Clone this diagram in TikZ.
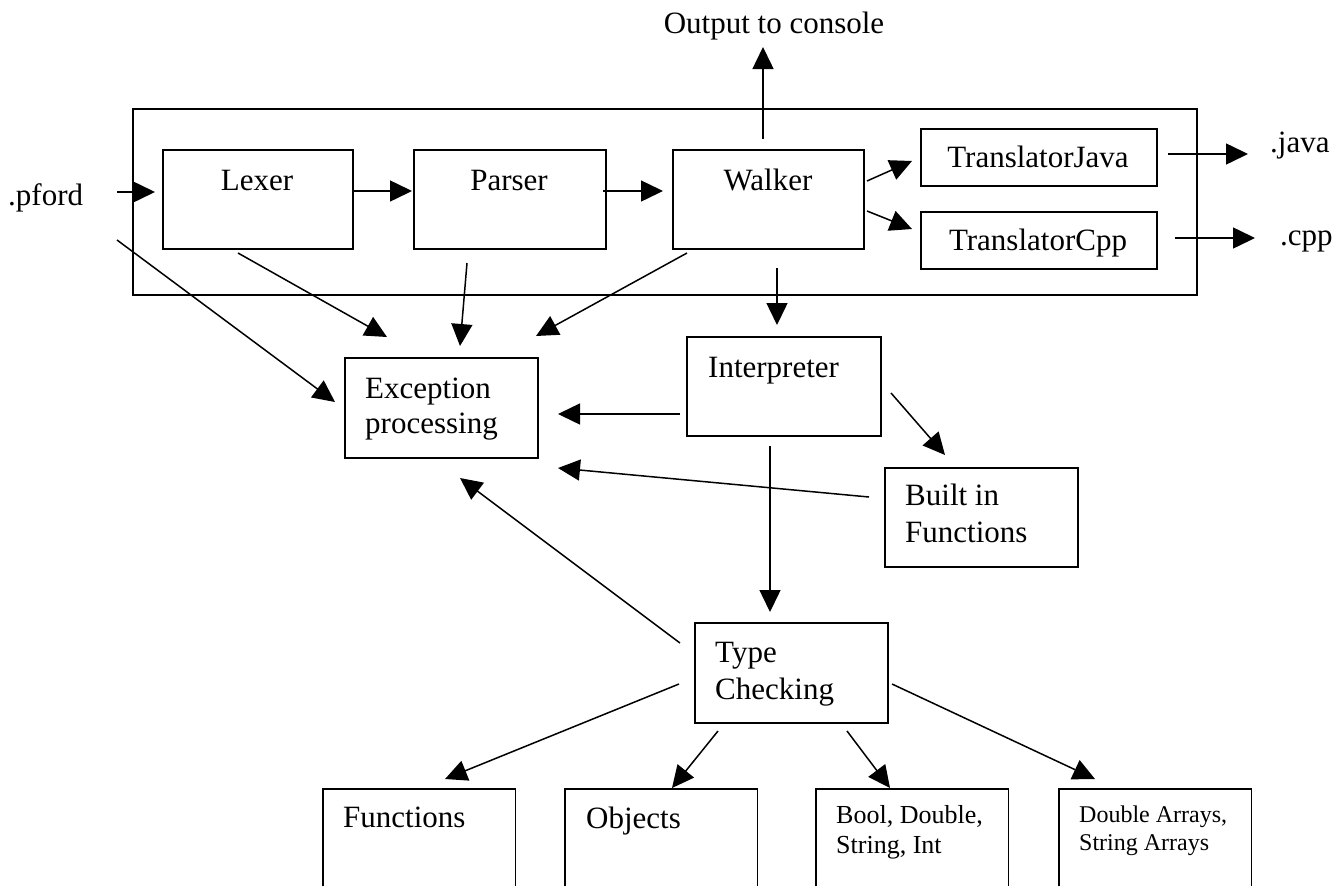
\documentclass[tikz,border=0pt]{standalone}
\usepackage{fontspec}
\setmainfont{Liberation Serif}
\usetikzlibrary{arrows.meta}
\begin{document}
\begin{tikzpicture}[x=1pt,y=-1pt,
  boxline/.style={line width=1.8pt},
  box/.style={draw, boxline, rectangle, inner sep=0pt, anchor=north west},
  openbox/.style={rectangle, inner sep=0pt, anchor=north west, minimum width=192pt, minimum height=97pt},
  lbl/.style={inner sep=0pt, font=\fontsize{31}{36}\selectfont, anchor=base},
  lblw/.style={lbl, anchor=base west},
  smallA/.style={inner sep=0pt, font=\fontsize{26}{30}\selectfont, anchor=base west},
  smallB/.style={inner sep=0pt, font=\fontsize{24}{28}\selectfont, anchor=base west},
  arr/.style={-{Triangle[length=22pt,width=21pt]}, line width=1.5pt}]
\useasboundingbox (0,0) rectangle (1343,886);

% boxes
\node[box, minimum width=1064pt, minimum height=186pt] (outer) at (132,108) {};
\node[box, minimum width=190pt, minimum height=99pt] (lexer) at (162,149) {};
\node[box, minimum width=192pt, minimum height=99pt] (parser) at (413,149) {};
\node[box, minimum width=191pt, minimum height=99pt] (walker) at (672,149) {};
\node[box, minimum width=236pt, minimum height=57pt] (tjava) at (920,128) {};
\node[box, minimum width=236pt, minimum height=57pt] (tcpp) at (920,211) {};
\node[box, minimum width=193pt, minimum height=100pt] (exc) at (344,357) {};
\node[box, minimum width=194pt, minimum height=99pt] (interp) at (686,336) {};
\node[box, minimum width=193pt, minimum height=99pt] (builtin) at (884,467) {};
\node[box, minimum width=193pt, minimum height=100pt] (tc) at (694,622) {};
\node[openbox] (fn) at (323,789) {};
\node[openbox] (obj) at (565,789) {};
\node[openbox] (bool) at (816,789) {};
\node[openbox] (darr) at (1059,789) {};
\foreach \b in {fn,obj,bool,darr}
  \draw[boxline] (\b.south west) -- (\b.north west) -- (\b.north east) -- (\b.south east);

% texts
\node[lblw] (tpford) at (8,205) {.pford};
\node[lbl] (tout) at (774,33) {Output to console};
\node[lbl] (tlexer) at (257,190) {Lexer};
\node[lbl] (tparser) at (509,190) {Parser};
\node[lbl] (twalker) at (768,190) {Walker};
\node[lbl] (ttjava) at (1038,167) {TranslatorJava};
\node[lbl] (ttcpp) at (1038,250) {TranslatorCpp};
\node[lblw] (tjavaext) at (1270,152) {.java};
\node[lblw] (tcppext) at (1280,245) {.cpp};
\node[lblw] (texc1) at (365,398) {Exception};
\node[lblw] (texc2) at (365,433) {processing};
\node[lblw] (tinterp) at (708,377) {Interpreter};
\node[lblw] (tbuilt1) at (905,505) {Built in};
\node[lblw] (tbuilt2) at (905,542) {Functions};
\node[lblw] (ttc1) at (715,662) {Type};
\node[lblw] (ttc2) at (715,699) {Checking};
\node[lblw] (tfn) at (343,827) {Functions};
\node[lblw] (tobj) at (586,828) {Objects};
\node[smallA] (tbool1) at (836,823) {Bool, Double,};
\node[smallA] (tbool2) at (836,853) {String, Int};
\node[smallB] (tdarr1) at (1079,822) {Double Arrays,};
\node[smallB] (tdarr2) at (1079,850) {String Arrays};

% connector end points
\coordinate (p1s) at (117,192);   \coordinate (p1e) at (155,192);
\coordinate (p9s) at (117,240);   \coordinate (p9e) at (335,402);
\coordinate (lx-e) at (352,191);  \coordinate (pa-w) at (412,191);
\coordinate (pa-e) at (603,191);  \coordinate (wa-w) at (663,191);
\coordinate (wa-j) at (867,181);  \coordinate (tj-w) at (912,161);
\coordinate (wa-c) at (867,211);  \coordinate (tc-w) at (912,229);
\coordinate (tj-e) at (1168,154); \coordinate (java-w) at (1248,154);
\coordinate (tcp-e) at (1175,238);\coordinate (cpp-w) at (1255,238);
\coordinate (wa-n) at (763,139);  \coordinate (out-s) at (763,47);
\coordinate (lx-s) at (238,253);  \coordinate (ex-n1) at (387,337);
\coordinate (pa-s) at (467,263);  \coordinate (ex-n2) at (460,346);
\coordinate (wa-s1) at (687,253); \coordinate (ex-n3) at (536,336);
\coordinate (wa-s2) at (777,268); \coordinate (in-n) at (777,325);
\coordinate (in-w) at (680,414);  \coordinate (ex-e1) at (558,414);
\coordinate (in-se) at (891,393); \coordinate (bi-n) at (945,455);
\coordinate (bi-w) at (869,497);  \coordinate (ex-e2) at (558,468);
\coordinate (in-s) at (770,446);  \coordinate (tc-n) at (770,612);
\coordinate (tc-w1) at (680,643); \coordinate (ex-s) at (460,478);
\coordinate (tc-w2) at (679,684); \coordinate (fn-n) at (445,779);
\coordinate (tc-s1) at (718,731); \coordinate (obj-n) at (672,788);
\coordinate (tc-s2) at (847,731); \coordinate (bool-n) at (890,788);
\coordinate (tc-e) at (892,684);  \coordinate (darr-n) at (1095,779);

% connectors
\draw[arr] (p1s) -- (p1e);
\draw[arr] (p9s) -- (p9e);
\draw[arr] (lx-e) -- (pa-w);
\draw[arr] (pa-e) -- (wa-w);
\draw[arr] (wa-j) -- (tj-w);
\draw[arr] (wa-c) -- (tc-w);
\draw[arr] (tj-e) -- (java-w);
\draw[arr] (tcp-e) -- (cpp-w);
\draw[arr] (wa-n) -- (out-s);
\draw[arr] (lx-s) -- (ex-n1);
\draw[arr] (pa-s) -- (ex-n2);
\draw[arr] (wa-s1) -- (ex-n3);
\draw[arr] (wa-s2) -- (in-n);
\draw[arr] (in-w) -- (ex-e1);
\draw[arr] (in-se) -- (bi-n);
\draw[arr] (bi-w) -- (ex-e2);
\draw[arr] (in-s) -- (tc-n);
\draw[arr] (tc-w1) -- (ex-s);
\draw[arr] (tc-w2) -- (fn-n);
\draw[arr] (tc-s1) -- (obj-n);
\draw[arr] (tc-s2) -- (bool-n);
\draw[arr] (tc-e) -- (darr-n);
\end{tikzpicture}
\end{document}
